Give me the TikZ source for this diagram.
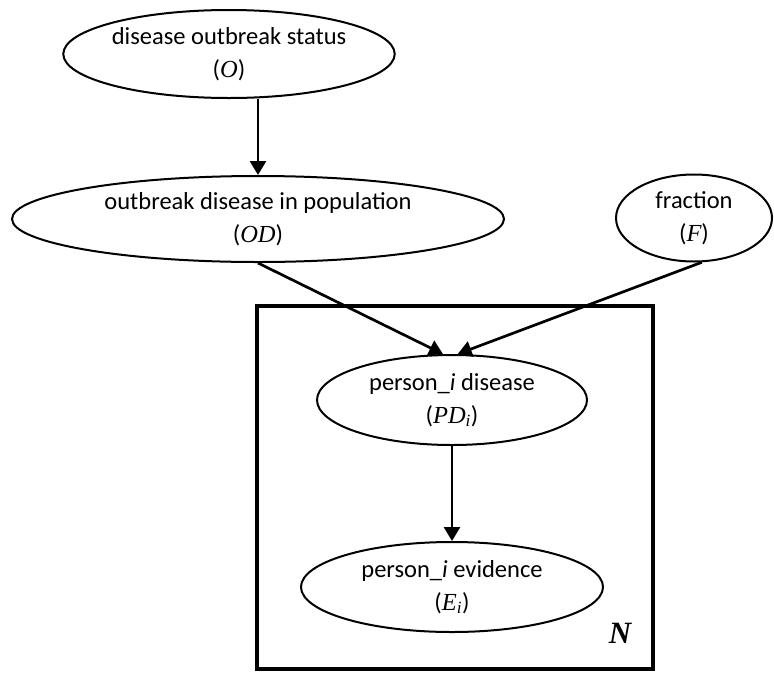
\documentclass[tikz,border=0pt]{standalone}
\usepackage{fontspec}
\setmainfont{Carlito}
\newfontfamily\tms{Liberation Serif}
\usetikzlibrary{shapes.geometric,arrows.meta}
\newcommand{\var}[1]{{\tms\itshape #1}}
\newcommand{\varsub}[2]{{\tms\itshape #1\textsubscript{#2}}}
\begin{document}
\begin{tikzpicture}[x=1pt,y=-1pt,
  rv/.style={ellipse,draw,line width=2pt,inner sep=0pt,align=center,
    font=\fontsize{24.5}{33}\selectfont,
    execute at begin node={\rule{0pt}{26pt}}},
  edge/.style={line width=2.7pt,-{Triangle[length=14pt,width=16pt]}},
  plate/.style={draw,line width=4.3pt}]
  \useasboundingbox (0,0) rectangle (774,673);
  % plate around the per-person variables
  \draw[plate] (257,306) rectangle (653,669);
  \node[font=\fontsize{31}{31}\selectfont\tms\bfseries\itshape] (n) at (620,633) {N};
  % random variables
  \node[rv,minimum width=318pt,minimum height=88pt] (o) at (229,54)
    {disease outbreak status\\(\var{O})};
  \node[rv,minimum width=492pt,minimum height=86pt] (od) at (258,219)
    {outbreak disease in population\\(\var{OD})};
  \node[rv,minimum width=156pt,minimum height=87pt] (f) at (694,218)
    {fraction\\(\var{F})};
  \node[rv,minimum width=270pt,minimum height=90pt] (pd) at (452,400)
    {person\_\textit{i} disease\\(\varsub{PD}{i})};
  \node[rv,minimum width=302pt,minimum height=90pt] (e) at (452,587)
    {person\_\textit{i} evidence\\(\varsub{E}{i})};
  % dependencies
  \draw[edge] (o.south -| 258,0) -- (od.north);
  \draw[edge] (od.south) -- (pd.101);
  \draw[edge] (f.-80) -- (pd.83);
  \draw[edge] (pd.south) -- (e.north);
\end{tikzpicture}
\end{document}
